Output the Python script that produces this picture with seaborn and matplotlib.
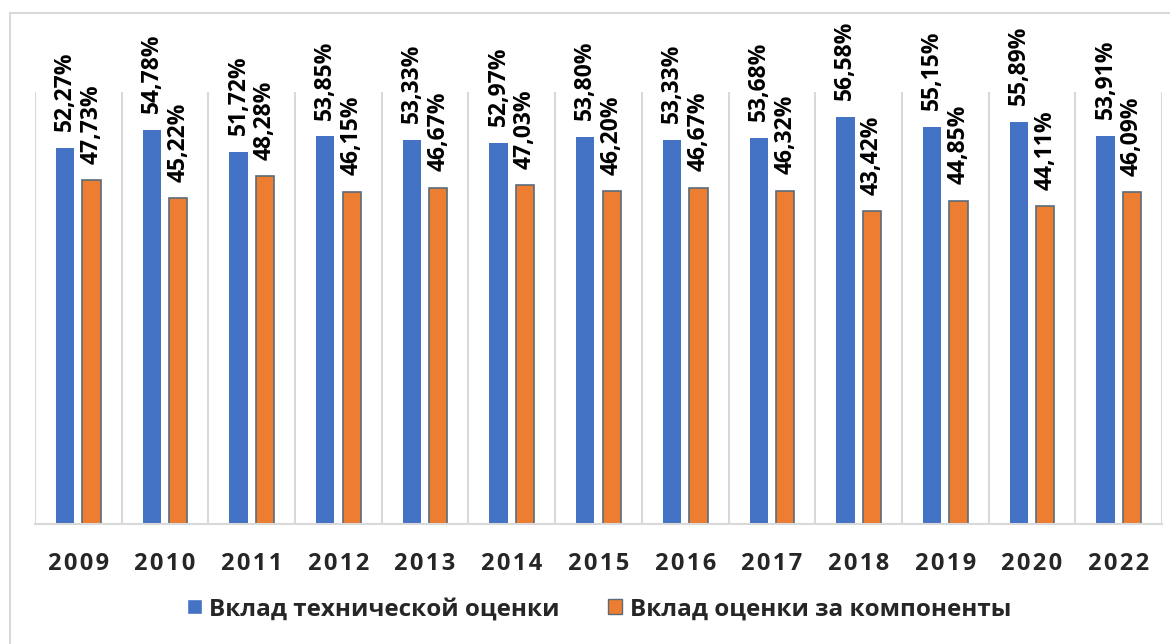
import pandas as pd
import matplotlib.pyplot as plt
import seaborn as sns
import numpy as np
from matplotlib.patches import Rectangle
from matplotlib.ticker import FixedLocator

#---data---
years = ["2009", "2010", "2011", "2012", "2013", "2014", "2015",
         "2016", "2017", "2018", "2019", "2020", "2022"]
tech = [52.27, 54.78, 51.72, 53.85, 53.33, 52.97, 53.80,
        53.33, 53.68, 56.58, 55.15, 55.89, 53.91]
comp = [47.73, 45.22, 48.28, 46.15, 46.67, 47.03, 46.20,
        46.67, 46.32, 43.42, 44.85, 44.11, 46.09]
series_names = ["Вклад технической оценки", "Вклад оценки за компоненты"]
colors = ["#4472C4", "#ED7D31"]

df = pd.DataFrame({
    "year": years * 2,
    "value": tech + comp,
    "series": [series_names[0]] * len(years) + [series_names[1]] * len(years),
})

sns.set_style("white")
plt.rcParams['font.family'] = ['Open Sans', 'DejaVu Sans']

fig = plt.figure(figsize=(11.7, 6.44), dpi=100)
ax = fig.add_axes([0.0299, 0.1863, 0.9633, 0.6707])

sns.barplot(data=df, x="year", y="value", hue="series", palette=colors,
            width=0.61, gap=0.31, ax=ax, saturation=1)

# orange bars have a dark outline
for bar in ax.containers[1]:
    bar.set_edgecolor("#5B6B7B")
    bar.set_linewidth(1.2)
for bar in ax.containers[0]:
    bar.set_linewidth(0)

for cont in ax.containers:
    labels = [f"{b.get_height():.2f}%".replace(".", ",") for b in cont]
    ax.bar_label(cont, labels=labels, rotation=90, padding=12,
                 fontsize=16.5, fontweight="bold", color="black")

ax.set_ylim(0, 60)
ax.set_xlim(-0.5, len(years) - 0.5)
ax.set_yticks([])
ax.set_xlabel("")
ax.set_ylabel("")

# category separators
ax.xaxis.set_minor_locator(FixedLocator(np.arange(-0.5, len(years))))
ax.grid(which="minor", axis="x", color="#D9D9D9", linewidth=1.5)
ax.tick_params(axis="x", which="both", length=0, pad=20)
ax.set_xticks(range(len(years)))
ax.set_xticklabels(["\u200a".join(y) for y in years], fontsize=17, fontweight="bold")

for s in ["top", "right", "left"]:
    ax.spines[s].set_visible(False)
ax.spines["bottom"].set_color("#D9D9D9")
ax.spines["bottom"].set_linewidth(1.5)

ax.legend_.remove()
handles = [Rectangle((0, 0), 1, 1, facecolor=colors[0]),
           Rectangle((0, 0), 1, 1, facecolor=colors[1], edgecolor="#5B6B7B", linewidth=1)]
fig.legend(handles, series_names, loc="center", bbox_to_anchor=(0.512, 0.054),
           ncol=2, frameon=False, prop={"size": 17.5, "weight": "bold"},
           handlelength=0.6, handleheight=0.6, handletextpad=0.3,
           columnspacing=2.0)

# chart border
fig.patches.append(Rectangle((10 / 1170, -0.1), 1.2, 1.1 - 13 / 644,
                             transform=fig.transFigure, fill=False,
                             edgecolor="#D9D9D9", linewidth=1.5))

fig.savefig("out.png", dpi=100)
